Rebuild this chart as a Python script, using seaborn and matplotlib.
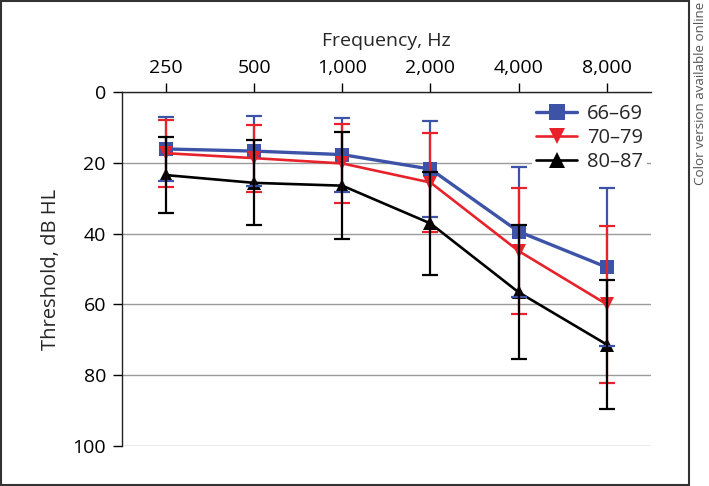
import matplotlib
matplotlib.use("Agg")
import matplotlib.pyplot as plt
import matplotlib.patches as mpatches
import seaborn as sns
import pandas as pd

# hearing thresholds by age group
freqs = ['250', '500', '1,000', '2,000', '4,000', '8,000']
groups = ['66–69', '70–79', '80–87']
mean_66 = [16.0, 16.6, 17.6, 21.7, 39.4, 49.5]
sd_66 = [9.0, 9.9, 10.5, 13.5, 18.4, 22.4]
mean_70 = [17.2, 18.6, 20.1, 25.5, 44.9, 60.0]
sd_70 = [9.5, 9.5, 11.1, 13.9, 17.8, 22.3]
mean_80 = [23.4, 25.6, 26.4, 37.1, 56.6, 71.4]
sd_80 = [10.7, 12.0, 15.2, 14.6, 19.0, 18.3]

means = [mean_66, mean_70, mean_80]
sds = [sd_66, sd_70, sd_80]
colors = ['#3d53a8', '#e8222b', '#000000']
markers = ['s', 'v', '^']
msizes = [10, 9.5, 9.5]
lwidths = [2.4, 1.9, 1.9]

rows = []
for g, m, s in zip(groups, means, sds):
    for i, f in enumerate(freqs):
        rows.append({'age': g, 'pos': i, 'freq': f, 'threshold': m[i], 'sd': s[i]})
df = pd.DataFrame(rows)

sns.set_style('white')
plt.rcParams['font.family'] = ['Open Sans', 'DejaVu Sans']

fig = plt.figure(figsize=(7.09, 4.86), dpi=100)
ax = fig.add_axes([0.172, 0.0833, 0.746, 0.7264])

for k, g in enumerate(groups):
    sub = df[df['age'] == g]
    sns.lineplot(data=sub, x='pos', y='threshold', color=colors[k], marker=markers[k],
                 markersize=msizes[k], markeredgewidth=0, linewidth=lwidths[k],
                 label=g, ax=ax, zorder=2 + k * 0.1)

for k, g in enumerate(groups):
    sub = df[df['age'] == g]
    ax.errorbar(sub['pos'], sub['threshold'], yerr=sub['sd'], fmt='none',
                ecolor=colors[k], elinewidth=1.6, capsize=6, capthick=1.6, zorder=3 + k * 0.1)

ax.set_xlim(-0.5, 5.5)
ax.set_ylim(100, 0)
ax.set_xticks(range(len(freqs)))
ax.set_xticklabels(freqs)
ax.set_yticks([0, 20, 40, 60, 80, 100])
ax.xaxis.tick_top()
ax.xaxis.set_label_position('top')
ax.tick_params(axis='x', which='both', direction='out', length=6.5, width=1, pad=5,
               labelsize=14, colors='black', top=True, bottom=False)
ax.tick_params(axis='y', direction='out', length=6.5, width=1, pad=5,
               labelsize=14, colors='black', left=True)
ax.set_xlabel('Frequency, Hz', fontsize=14, labelpad=9)
ax.set_ylabel('Threshold, dB HL', fontsize=14.5, labelpad=8)

ax.grid(axis='y', color='#9a9a9a', linewidth=1)
ax.grid(axis='x', visible=False)
ax.set_axisbelow(True)
for side in ['right', 'bottom']:
    ax.spines[side].set_visible(False)
for side in ['left', 'top']:
    ax.spines[side].set_color('#222222')
    ax.spines[side].set_linewidth(1)

leg = ax.legend(loc='upper right', bbox_to_anchor=(1.0, 0.99), fontsize=14.5, frameon=True,
                handlelength=2.0, handletextpad=0.5, labelspacing=0.2, borderpad=0.2,
                borderaxespad=0.2, markerscale=1.15)
leg.get_frame().set_facecolor('white')
leg.get_frame().set_edgecolor('none')
leg.get_frame().set_alpha(1)

fig.patches.append(mpatches.Rectangle((0.0015, 0.003), 688 / 709, 0.994, transform=fig.transFigure,
                                      fill=False, edgecolor='#333333', linewidth=1.5))
fig.text(0.988, 0.997, 'Color version available online', rotation=90, ha='center', va='top',
         fontsize=9.6, color='#555555')

fig.savefig('out.png', dpi=100)
